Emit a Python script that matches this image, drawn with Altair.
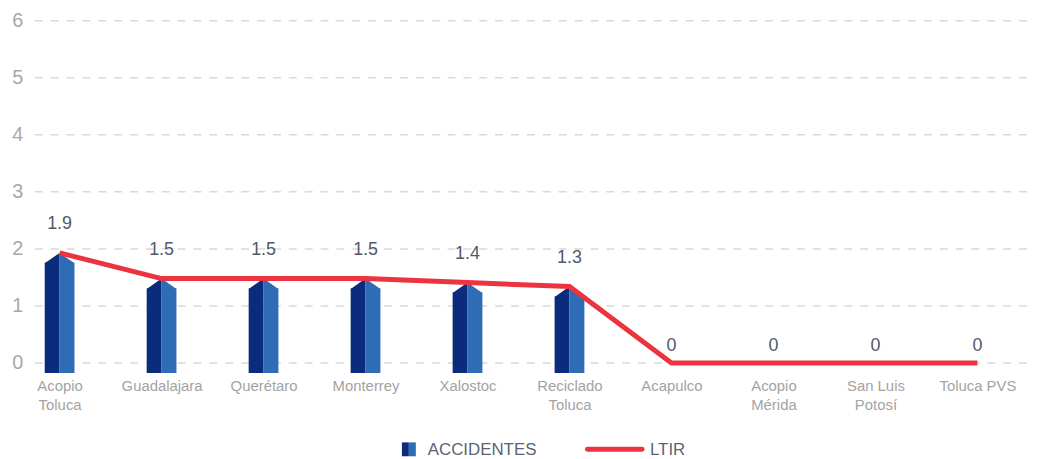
import altair as alt
import pandas as pd

# ---- data ----
categories = ["Acopio\nToluca", "Guadalajara", "Querétaro", "Monterrey", "Xalostoc",
              "Reciclado\nToluca", "Acapulco", "Acopio\nMérida", "San Luis\nPotosí", "Toluca PVS"]
accidentes = [1.93, 1.48, 1.48, 1.48, 1.41, 1.34, 0, 0, 0, 0]
ltir = [1.93, 1.48, 1.48, 1.48, 1.41, 1.34, 0, 0, 0, 0]
y_ticks = [0, 1, 2, 3, 4, 5, 6]
legend_labels = ["ACCIDENTES", "LTIR"]

DARK = "#0B2B7C"
LIGHT = "#2F6CB6"
RED = "#EC3440"
FONT = "Liberation Sans"
PLOT_W = 1002

df = pd.DataFrame({"cat": categories, "acc": accidentes, "ltir": ltir})
grid_df = pd.DataFrame({"t": y_ticks})

x_enc = alt.X(
    "cat:N", sort=categories,
    scale=alt.Scale(type="point", range=[25, 950], padding=0),
    axis=alt.Axis(
        title=None, labelAngle=0, labelFontSize=15, labelColor="#a3a3a3", labelFont=FONT,
        ticks=False, domain=False, grid=False, labelPadding=16, labelLineHeight=19,
        labelOverlap=False, labelExpr="split(datum.label, '\\n')",
    ),
)
y_scale = alt.Scale(domain=[0, 6], nice=False, zero=True)
y_axis = alt.Axis(
    title=None, values=y_ticks, format="d", labelFontSize=20, labelColor="#a8a8a8",
    labelFont=FONT, ticks=False, domain=False, grid=False, labelPadding=12,
)

# dashed horizontal grid spanning the whole plot width
grid = alt.Chart(grid_df).mark_rule(strokeDash=[8, 8], color="#d9d9d9", strokeWidth=1.5).encode(
    y=alt.Y("t:Q", scale=y_scale, axis=y_axis), x=alt.value(0), x2=alt.value(PLOT_W))

base = alt.Chart(df)
bars_df = base.transform_filter("datum.acc > 0")

bar_left = bars_df.mark_bar(size=15, xOffset=-7.5, yOffset=10, color=DARK).encode(
    x=x_enc, y=alt.Y("acc:Q", scale=y_scale))
bar_right = bars_df.mark_bar(size=15, xOffset=7.5, yOffset=10, color=LIGHT).encode(
    x=x_enc, y=alt.Y("acc:Q", scale=y_scale))
cap_left = bars_df.mark_point(shape="M-1,0.7L0,0L0,0.7Z", size=900, filled=True,
                              fill=DARK, opacity=1, strokeWidth=0).encode(
    x=x_enc, y=alt.Y("acc:Q", scale=y_scale))
cap_right = bars_df.mark_point(shape="M0,0L1,0.7L0,0.7Z", size=900, filled=True,
                               fill=LIGHT, opacity=1, strokeWidth=0).encode(
    x=x_enc, y=alt.Y("acc:Q", scale=y_scale))

line = base.mark_line(color=RED, strokeWidth=5).encode(
    x=x_enc, y=alt.Y("ltir:Q", scale=y_scale))

labels_pos = base.transform_filter("datum.ltir > 0").transform_calculate(
    lbl="format(datum.ltir, '.1~f')").mark_text(
    dy=-29, fontSize=18, color="#505a66", font=FONT, baseline="middle").encode(
    x=x_enc, y=alt.Y("ltir:Q", scale=y_scale), text="lbl:N")
labels_zero = base.transform_filter("datum.ltir <= 0").transform_calculate(
    lbl="format(datum.ltir, '.1~f')").mark_text(
    dy=-17, fontSize=18, color="#505a66", font=FONT, baseline="middle").encode(
    x=x_enc, y=alt.Y("ltir:Q", scale=y_scale), text="lbl:N")

# ---- manual legend ----
LEG_Y = 432
leg_a = pd.DataFrame({"label": [legend_labels[0]]})
leg_b = pd.DataFrame({"label": [legend_labels[1]]})
icon_l = alt.Chart(leg_a).mark_point(shape="M-1,-1H0V1H-1Z", size=196, filled=True,
                                     fill=DARK, opacity=1, strokeWidth=0).encode(
    x=alt.value(377), y=alt.value(LEG_Y))
icon_r = alt.Chart(leg_a).mark_point(shape="M0,-1H1V1H0Z", size=196, filled=True,
                                     fill=LIGHT, opacity=1, strokeWidth=0).encode(
    x=alt.value(377), y=alt.value(LEG_Y))
text_a = alt.Chart(leg_a).mark_text(align="left", baseline="middle", fontSize=17,
                                    color="#5b6470", font=FONT).encode(
    x=alt.value(396), y=alt.value(LEG_Y + 1), text="label:N")
rule_b = alt.Chart(leg_b).mark_rule(color=RED, strokeWidth=5, strokeCap="round").encode(
    x=alt.value(557), x2=alt.value(612), y=alt.value(LEG_Y))
text_b = alt.Chart(leg_b).mark_text(align="left", baseline="middle", fontSize=17,
                                    color="#5b6470", font=FONT).encode(
    x=alt.value(620), y=alt.value(LEG_Y + 1), text="label:N")

chart = alt.layer(
    grid, bar_left, bar_right, cap_left, cap_right, line, labels_pos, labels_zero,
    icon_l, icon_r, text_a, rule_b, text_b,
).properties(
    width=PLOT_W, height=345,
    autosize=alt.AutoSizeParams(type="none"),
    padding={"left": 27, "top": 11, "right": 0, "bottom": 100},
    background="white",
).configure_view(stroke=None)

chart.save("out.html", embed_options={"renderer": "svg", "actions": False})
